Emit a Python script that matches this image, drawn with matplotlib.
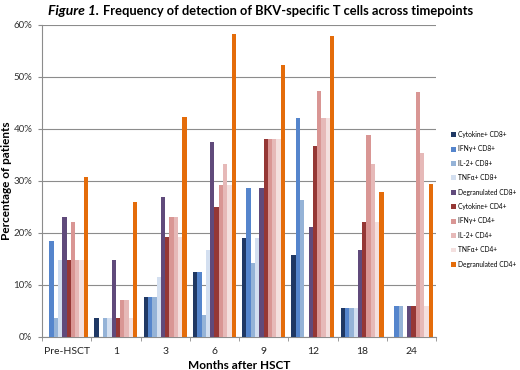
import numpy as np
import matplotlib.pyplot as plt
from matplotlib.ticker import PercentFormatter

# Timepoints (months after HSCT)
timepoints = ['Pre-HSCT', '1', '3', '6', '9', '12', '18', '24']

# Series names and percentages
series_names = ['Cytokine+ CD8+', 'IFN\u03b3+ CD8+', 'IL-2+ CD8+', 'TNF\u03b1+ CD8+',
                'Degranulated CD8+', 'Cytokine+ CD4+', 'IFN\u03b3+ CD4+', 'IL-2+ CD4+',
                'TNF\u03b1+ CD4+', 'Degranulated CD4+']

cytokine_cd8 = [0, 3.6, 7.7, 12.5, 19.0, 15.8, 5.6, 0]
ifng_cd8 = [18.5, 0, 7.7, 12.5, 28.6, 42.1, 5.6, 5.9]
il2_cd8 = [3.7, 3.6, 7.7, 4.2, 14.3, 26.3, 5.6, 5.9]
tnfa_cd8 = [14.8, 3.6, 11.5, 16.7, 19.0, 0, 5.6, 0]
degran_cd8 = [23.1, 14.8, 26.9, 37.5, 28.6, 21.1, 16.7, 5.9]
cytokine_cd4 = [14.8, 3.6, 19.2, 25.0, 38.1, 36.8, 22.2, 5.9]
ifng_cd4 = [22.2, 7.1, 23.1, 29.2, 38.1, 47.4, 38.9, 47.1]
il2_cd4 = [14.8, 7.1, 23.1, 33.3, 38.1, 42.1, 33.3, 35.3]
tnfa_cd4 = [14.8, 3.6, 19.2, 29.2, 38.1, 42.1, 22.2, 5.9]
degran_cd4 = [30.8, 25.9, 42.3, 58.3, 52.4, 57.9, 27.8, 29.4]

all_series = [cytokine_cd8, ifng_cd8, il2_cd8, tnfa_cd8, degran_cd8,
              cytokine_cd4, ifng_cd4, il2_cd4, tnfa_cd4, degran_cd4]

colors = ['#1f3864', '#5585cc', '#95b3d7', '#d3dff0', '#604a7b',
          '#953735', '#d99694', '#e6b9b8', '#f4e0df', '#e46c0a']

plt.rcParams['font.family'] = ['Lato', 'DejaVu Sans']

W, H = 520, 370
fig = plt.figure(figsize=(W / 100, H / 100), dpi=100)
# plot area in pixels: x 42..436, y 25..337
ax = fig.add_axes([42 / W, 1 - 337 / H, (436 - 42) / W, (337 - 25) / H])

x = np.arange(len(timepoints))
bar_w = 0.087
for i, (vals, name, col) in enumerate(zip(all_series, series_names, colors)):
    offset = (i - 4.5) * bar_w
    ax.bar(x + offset, vals, width=bar_w, color=col, label=name, zorder=3)

ax.set_ylim(0, 60)
ax.set_xlim(-0.5, len(timepoints) - 0.5)
ax.set_yticks(np.arange(0, 61, 10))
ax.yaxis.set_major_formatter(PercentFormatter(decimals=0))
ax.grid(axis='y', color='#8c8c8c', linewidth=0.8, zorder=0)

ax.set_xticks(x)
ax.set_xticklabels(timepoints)
ax.set_xticks(np.arange(-0.5, len(timepoints)), minor=True)
ax.tick_params(axis='x', which='major', length=0, labelsize=7.5, pad=7, colors='#222222')
ax.tick_params(axis='x', which='minor', length=3, color='#8c8c8c')
ax.tick_params(axis='y', length=3, color='#8c8c8c', labelsize=7, labelcolor='#333333', pad=4)

for side in ['top', 'right']:
    ax.spines[side].set_visible(False)
for side in ['left', 'bottom']:
    ax.spines[side].set_color('#8c8c8c')

ax.set_xlabel('Months after HSCT', fontsize=8.5, fontweight='bold', labelpad=3)
ax.set_ylabel('Percentage of patients', fontsize=8.5, fontweight='bold')
ax.yaxis.set_label_coords(-0.075, 0.5)

# size the legend text so the longest label fits between x=458 and x=518
probe = fig.text(0, 0, 'Degranulated CD4+', fontsize=6)
fig.canvas.draw()
leg_fs = 6 * 59 / probe.get_window_extent().width
probe.remove()

row_px = 14.1
fs_px = leg_fs * 100 / 72
leg = ax.legend(loc='upper left', bbox_to_anchor=(451 / W, 1 - 131 / H),
                bbox_transform=fig.transFigure, frameon=False,
                fontsize=leg_fs, handlelength=0.75, handleheight=0.75, handletextpad=0.3,
                labelspacing=(row_px - fs_px) / fs_px, borderaxespad=0, borderpad=0)

# title: italic bold "Figure 1." followed by bold text, sized to match the reference width
t1 = fig.text(48 / W, 1 - 11 / H, 'Figure 1.', fontsize=10, fontweight='bold', style='italic',
              ha='left', va='center')
t2 = fig.text(0.3, 1 - 11 / H, 'Frequency of detection of BKV-specific T cells across timepoints',
              fontsize=10, fontweight='bold', ha='left', va='center')
fig.canvas.draw()
w2 = t2.get_window_extent().width
t2.set_fontsize(10 * 372 / w2)
bb = t1.get_window_extent()
t2.set_x((bb.x1 + 4) / W)

fig.savefig('out.png', dpi=100)
